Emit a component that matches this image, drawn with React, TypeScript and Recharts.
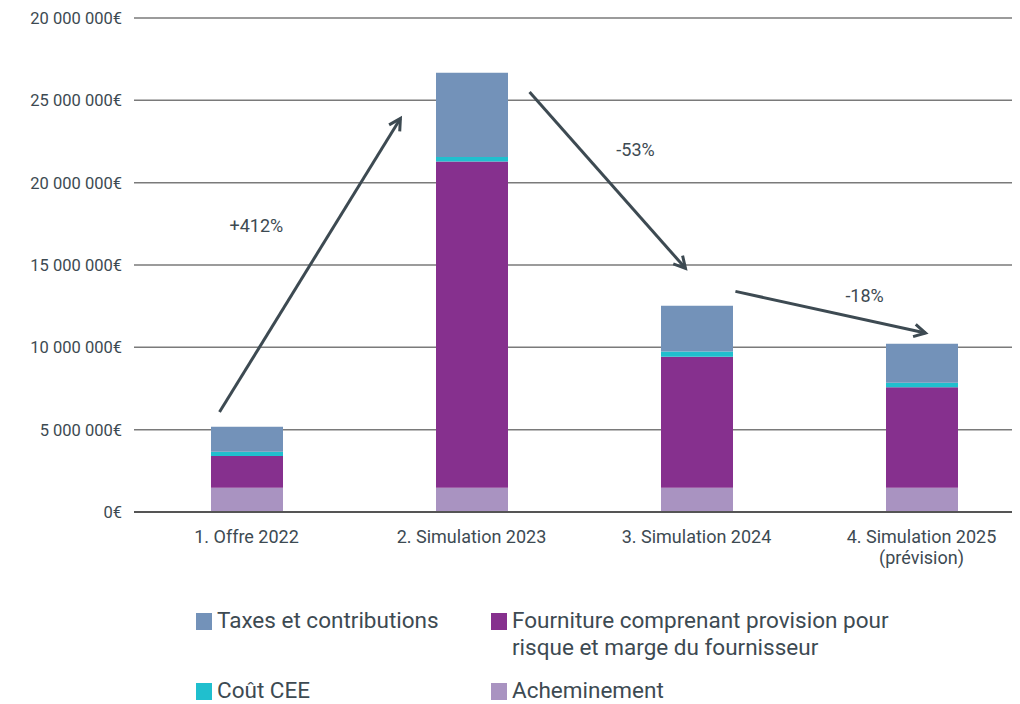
import React from 'react';
import { BarChart, Bar, XAxis, YAxis, CartesianGrid, ReferenceLine, ReferenceDot } from 'recharts';

const categories = ['1. Offre 2022', '2. Simulation 2023', '3. Simulation 2024', '4. Simulation 2025\n(prévision)'];
const acheminement = [1480000, 1480000, 1480000, 1480000];
const fourniture = [1920000, 19800000, 7950000, 6090000];
const coutCee = [260000, 280000, 320000, 280000];
const taxes = [1520000, 5120000, 2770000, 2370000];

const yTicks = [0, 5000000, 10000000, 15000000, 20000000, 25000000, 30000000];
const yTickLabels = ['0€', '5 000 000€', '10 000 000€', '15 000 000€', '20 000 000€', '25 000 000€', '20 000 000€'];

// arrows between bars: [x1, y1, x2, y2] in data units (x = category index)
const arrows = [
    [-0.12, 6070000, 0.684, 23900000],
    [1.258, 25500000, 1.951, 14800000],
    [2.173, 13400000, 3.018, 10870000],
];
const arrowLabels = ['+412%', '-53%', '-18%'];
const arrowLabelPos = [
    [0.044, 17360000],
    [1.729, 21980000],
    [2.747, 13100000],
];

const legendItems = [
    { name: 'Taxes et contributions', color: '#7392b9' },
    { name: 'Fourniture comprenant provision pour\nrisque et marge du fournisseur', color: '#86308e' },
    { name: 'Coût CEE', color: '#20bfce' },
    { name: 'Acheminement', color: '#a993c1' },
];

const data = categories.map((c, i) => ({
    pos: i,
    name: c,
    acheminement: acheminement[i],
    fourniture: fourniture[i],
    cee: coutCee[i],
    taxes: taxes[i],
}));

const TEXT = '#3d4a52';
const FONT = 'Roboto, "Noto Sans", sans-serif';

const XTick = (props: any) => {
    const { x, y, payload } = props;
    const lines = categories[payload.value].split('\n');
    return (
        <text x={x} y={y} textAnchor="middle" fill={TEXT} fontSize={18} fontFamily={FONT}>
            {lines.map((l: string, i: number) => (
                <tspan key={i} x={x} dy={i === 0 ? 23 : 21}>{l}</tspan>
            ))}
        </text>
    );
};

const Arrow = (props: any) => {
    const { x1, y1, x2, y2 } = props;
    const ang = Math.atan2(y2 - y1, x2 - x1);
    const len = 13;
    const a1 = ang + Math.PI - 0.5;
    const a2 = ang + Math.PI + 0.5;
    return (
        <g>
            <line x1={x1} y1={y1} x2={x2} y2={y2} stroke={TEXT} strokeWidth={3} />
            <polyline
                points={`${x2 + len * Math.cos(a1)},${y2 + len * Math.sin(a1)} ${x2},${y2} ${x2 + len * Math.cos(a2)},${y2 + len * Math.sin(a2)}`}
                fill="none"
                stroke={TEXT}
                strokeWidth={3}
            />
        </g>
    );
};

export default function App() {
    return (
        <div style={{ position: 'relative', width: 1020, height: 704, margin: '-8px -8px 0 -8px', overflow: 'hidden', background: '#fff', fontFamily: FONT }}>
            <BarChart width={1040} height={580} data={data} margin={{ top: 18, right: 6, left: 0, bottom: 0 }}>
                <CartesianGrid vertical={false} stroke="#7a7a7a" strokeWidth={1.5} />
                <XAxis
                    dataKey="pos"
                    type="number"
                    domain={[-0.5, 3.5]}
                    ticks={[0, 1, 2, 3]}
                    tick={<XTick />}
                    tickLine={false}
                    axisLine={{ stroke: '#555', strokeWidth: 2 }}
                    height={68}
                    interval={0}
                />
                <YAxis
                    width={134}
                    domain={[0, 30000000]}
                    ticks={yTicks}
                    tickFormatter={(v: number) => yTickLabels[yTicks.indexOf(v)]}
                    axisLine={false}
                    tickLine={false}
                    tickSize={0}
                    tickMargin={12}
                    tick={{ fill: TEXT, fontSize: 16.5, fontFamily: FONT }}
                />
                <Bar dataKey="acheminement" stackId="a" fill="#a993c1" barSize={72} isAnimationActive={false} />
                <Bar dataKey="fourniture" stackId="a" fill="#86308e" barSize={72} isAnimationActive={false} />
                <Bar dataKey="cee" stackId="a" fill="#20bfce" barSize={72} isAnimationActive={false} />
                <Bar dataKey="taxes" stackId="a" fill="#7392b9" barSize={72} isAnimationActive={false} />
                {arrows.map((a, i) => (
                    <ReferenceLine
                        key={'ar' + i}
                        segment={[{ x: a[0], y: a[1] }, { x: a[2], y: a[3] }]}
                        ifOverflow="visible"
                        shape={<Arrow />}
                    />
                ))}
                {arrowLabelPos.map((p, i) => (
                    <ReferenceDot
                        key={'lb' + i}
                        x={p[0]}
                        y={p[1]}
                        r={0}
                        ifOverflow="visible"
                        shape={(sp: any) => (
                            <text x={sp.cx} y={sp.cy} dy={6} textAnchor="middle" fill={TEXT} fontSize={18} fontFamily={FONT}>
                                {arrowLabels[i]}
                            </text>
                        )}
                    />
                ))}
            </BarChart>
            {legendItems.map((it, i) => {
                const col = i % 2;
                const row = Math.floor(i / 2);
                const left = col === 0 ? 196 : 491;
                const top = row === 0 ? 607 : 677;
                return (
                    <div key={it.name} style={{ position: 'absolute', left, top, display: 'flex', alignItems: 'flex-start' }}>
                        <div style={{ width: 16, height: 17, background: it.color, marginTop: 6, marginRight: 5, flexShrink: 0 }} />
                        <div style={{ fontSize: 22.5, lineHeight: '27px', color: TEXT, whiteSpace: 'pre' }}>{it.name}</div>
                    </div>
                );
            })}
        </div>
    );
}
